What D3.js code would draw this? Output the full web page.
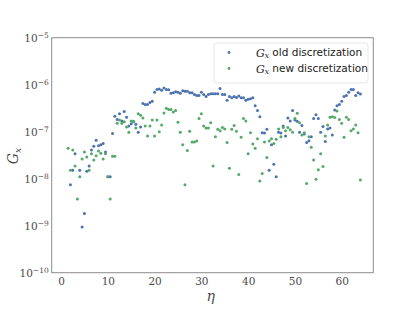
<!DOCTYPE html>
<html>
<head>
<meta charset="utf-8">
<script src="https://cdn.jsdelivr.net/npm/d3@7"></script>
<style>
  body { margin: 0; background: #fff; }
  svg { display: block; }
</style>
</head>
<body>
<div id="chart"></div>
<script>
// eta grid (x values), 1.5 .. 64.0 in steps of 0.5
const eta = [
  1.5, 2, 2.5, 3, 3.5, 4, 4.5, 5, 5.5, 6, 6.5, 7, 7.5, 8, 8.5, 9, 9.5, 10, 10.5, 11, 11.5, 12,
  12.5, 13, 13.5, 14, 14.5, 15, 15.5, 16, 16.5, 17, 17.5, 18, 18.5, 19, 19.5, 20, 20.5, 21, 21.5, 22,
  22.5, 23, 23.5, 24, 24.5, 25, 25.5, 26, 26.5, 27, 27.5, 28, 28.5, 29, 29.5, 30, 30.5, 31, 31.5, 32,
  32.5, 33, 33.5, 34, 34.5, 35, 35.5, 36, 36.5, 37, 37.5, 38, 38.5, 39, 39.5, 40, 40.5, 41, 41.5, 42,
  42.5, 43, 43.5, 44, 44.5, 45, 45.5, 46, 46.5, 47, 47.5, 48, 48.5, 49, 49.5, 50, 50.5, 51, 51.5, 52,
  52.5, 53, 53.5, 54, 54.5, 55, 55.5, 56, 56.5, 57, 57.5, 58, 58.5, 59, 59.5, 60, 60.5, 61, 61.5, 62,
  62.5, 63, 63.5, 64
];

// log10(G_x), old discretization (null = no point shown)
const oldLog = [
  null, -8.13, -7.82, -7.47, null, -7.82, -9.03, -8.74, -7.84, -7.73, -7.39, -7.31, -7.18, -7.30, -7.28, -7.25, -7.43, -7.96, -7.96, -7.04, -6.67, -6.74,
  -6.62, -6.77, -6.57, -6.69, -6.88, -6.83, -6.79, -6.84, -7.01, -6.90, -6.40, -6.42, -6.42, -6.38, -6.35, -6.16, -6.10, -6.09, -6.12, -6.07,
  -6.10, -6.11, -6.18, -6.17, -6.15, -6.16, -6.18, -6.13, -6.14, -6.14, -6.17, -6.17, -6.21, -6.23, -6.23, -6.16, -6.21, -6.25, -6.21, -6.19,
  -6.19, -6.19, -6.19, -6.08, -6.21, -6.21, -6.33, -6.25, -6.28, -6.25, -6.27, -6.24, -6.28, -6.28, -6.33, -6.31, -6.30, -6.28, -6.45, -6.55,
  -6.68, -7.02, -7.03, -6.95, -7.82, -7.28, -7.69, -7.96, -7.01, -7.03, -6.88, -7.09, -6.71, -6.77, -6.55, -6.75, -6.78, -7.01, -6.87, -7.05,
  -7.23, -7.19, -7.11, -6.72, -6.64, -6.72, -7.01, -6.89, -7.21, -6.94, -6.92, -7.07, -6.54, -6.45, -6.42, -6.35, -6.25, -6.23, -6.16, -6.10,
  -6.10, -6.23, -6.17, -6.20
];

// log10(G_x), new discretization
const newLog = [
  -7.35, -7.82, -7.39, -7.73, -8.43, -7.96, -7.58, -7.43, -7.54, -7.82, -7.47, -7.60, -7.51, -7.41, -7.46, -7.58, -7.47, -7.96, -8.43, -7.52, -7.52, -6.82,
  -6.75, -6.82, -6.79, -6.90, -7.01, -6.77, -6.78, -6.92, -6.62, -6.65, -6.71, -6.88, -7.09, -6.88, -6.75, -7.09, -6.75, -7.00, -6.86, -6.60,
  -6.50, -6.53, -6.53, -6.58, -6.55, -6.80, -7.01, -7.28, -8.13, -7.40, -6.99, -7.22, -7.22, -7.20, -6.72, -6.62, -6.88, -6.92, -6.92, -6.81,
  -7.73, -7.11, -6.95, -6.98, -6.91, -6.94, -7.23, -7.78, -6.95, -6.87, -6.99, -7.91, -7.12, -6.72, -6.77, -7.47, -7.02, -7.26, -7.35, -7.15,
  -8.05, -7.89, -7.22, -7.55, -7.20, -7.15, -7.25, -7.16, -6.94, -7.11, -6.91, -6.98, -6.91, -6.96, -7.01, -6.72, -6.61, -6.81, -7.07, -7.02,
  -8.10, -7.11, -7.33, -7.60, -8.01, -7.81, -7.47, -7.74, -7.09, -6.86, -6.69, -6.68, -6.70, -6.56, -6.74, -6.82, -7.12, -6.69, -6.74, -6.98,
  -6.94, -6.86, -7.02, -8.03
];

const xTicks = [0, 10, 20, 30, 40, 50, 60];
const yExponents = [-5, -6, -7, -8, -9, -10];
const seriesNames = ["old discretization", "new discretization"];
const seriesColors = ["#4c72b0", "#55a868"];

const W = 415, H = 312;
const margin = {top: 37.7, right: 41.7, bottom: 39.3, left: 51.7};
const width = W - margin.left - margin.right,
      height = H - margin.top - margin.bottom;

const svg = d3.select("#chart").append("svg")
    .attr("width", W)
    .attr("height", H);

const g = svg.append("g")
    .attr("transform", "translate(" + margin.left + "," + margin.top + ")");

const x = d3.scaleLinear().domain([-2.0, 66.76]).range([0, width]);
const y = d3.scaleLog().domain([1e-10, 1e-5]).range([height, 0]);

const textColor = "#4a4a4a";
const serif = "'DejaVu Serif', 'Liberation Serif', serif";

// x tick labels
const xAxis = g.append("g")
    .attr("transform", "translate(0," + height + ")")
    .call(d3.axisBottom(x).tickValues(xTicks).tickSize(0).tickPadding(5).tickFormat(d3.format("d")));
xAxis.select(".domain").remove();
xAxis.selectAll("text")
    .attr("fill", textColor)
    .style("font-family", serif)
    .style("font-size", "10.5px");

// y tick labels, written as 10^k
const yAxis = g.append("g")
    .call(d3.axisLeft(y).tickValues(yExponents.map(e => Math.pow(10, e))).tickSize(0).tickPadding(3));
yAxis.select(".domain").remove();
yAxis.selectAll("text")
    .text(null)
    .attr("fill", textColor)
    .style("font-family", serif)
    .style("font-size", "10.5px")
    .each(function(d) {
        const t = d3.select(this);
        const e = Math.round(Math.log10(d));
        t.append("tspan").text("10");
        t.append("tspan")
            .attr("dy", "-0.45em")
            .style("font-size", "7.5px")
            .text("\u2212" + Math.abs(e));
    });

// frame
g.append("rect")
    .attr("x", 0).attr("y", 0)
    .attr("width", width).attr("height", height)
    .attr("fill", "none")
    .attr("stroke", "#8c8c8c")
    .attr("stroke-width", 1);

// points
[oldLog, newLog].forEach(function(series, k) {
    const pts = eta.map((e, i) => ({eta: e, v: series[i]})).filter(p => p.v !== null);
    g.append("g").selectAll("circle")
        .data(pts)
        .enter().append("circle")
        .attr("cx", d => x(d.eta))
        .attr("cy", d => y(Math.pow(10, d.v)))
        .attr("r", 1.5)
        .attr("fill", seriesColors[k]);
});

// axis labels
svg.append("text")
    .attr("x", margin.left + x(32))
    .attr("y", 301)
    .attr("text-anchor", "middle")
    .attr("fill", textColor)
    .style("font-family", serif)
    .style("font-style", "italic")
    .style("font-size", "14px")
    .text("\u03b7");

const ylab = svg.append("text")
    .attr("transform", "translate(18,156) rotate(-90)")
    .attr("text-anchor", "middle")
    .attr("fill", textColor)
    .style("font-family", serif)
    .style("font-style", "italic")
    .style("font-size", "14px");
ylab.append("tspan").text("G");
ylab.append("tspan").attr("dy", "0.3em").style("font-size", "9px").text("x");

// legend
const legend = svg.append("g").attr("transform", "translate(214,43)");
legend.append("rect")
    .attr("width", 154).attr("height", 40)
    .attr("rx", 3)
    .attr("fill", "#fff")
    .attr("fill-opacity", 0.8)
    .attr("stroke", "#e0e0e0")
    .attr("stroke-width", 0.8);

seriesNames.forEach(function(name, k) {
    const row = legend.append("g").attr("transform", "translate(0," + (9.5 + k * 16) + ")");
    row.append("circle")
        .attr("cx", 15).attr("cy", 0)
        .attr("r", 1.4)
        .attr("fill", seriesColors[k]);
    const t = row.append("text")
        .attr("x", 42)
        .attr("y", 4)
        .attr("fill", "#222");
    t.append("tspan")
        .style("font-family", serif)
        .style("font-style", "italic")
        .style("font-size", "11px")
        .text("G");
    t.append("tspan")
        .attr("dy", "0.25em")
        .style("font-family", serif)
        .style("font-style", "italic")
        .style("font-size", "7.5px")
        .text("x");
    t.append("tspan")
        .attr("dy", "-0.25em")
        .style("font-family", "'DejaVu Sans', sans-serif")
        .style("font-size", "10.5px")
        .text(" " + name);
});
</script>
</body>
</html>
